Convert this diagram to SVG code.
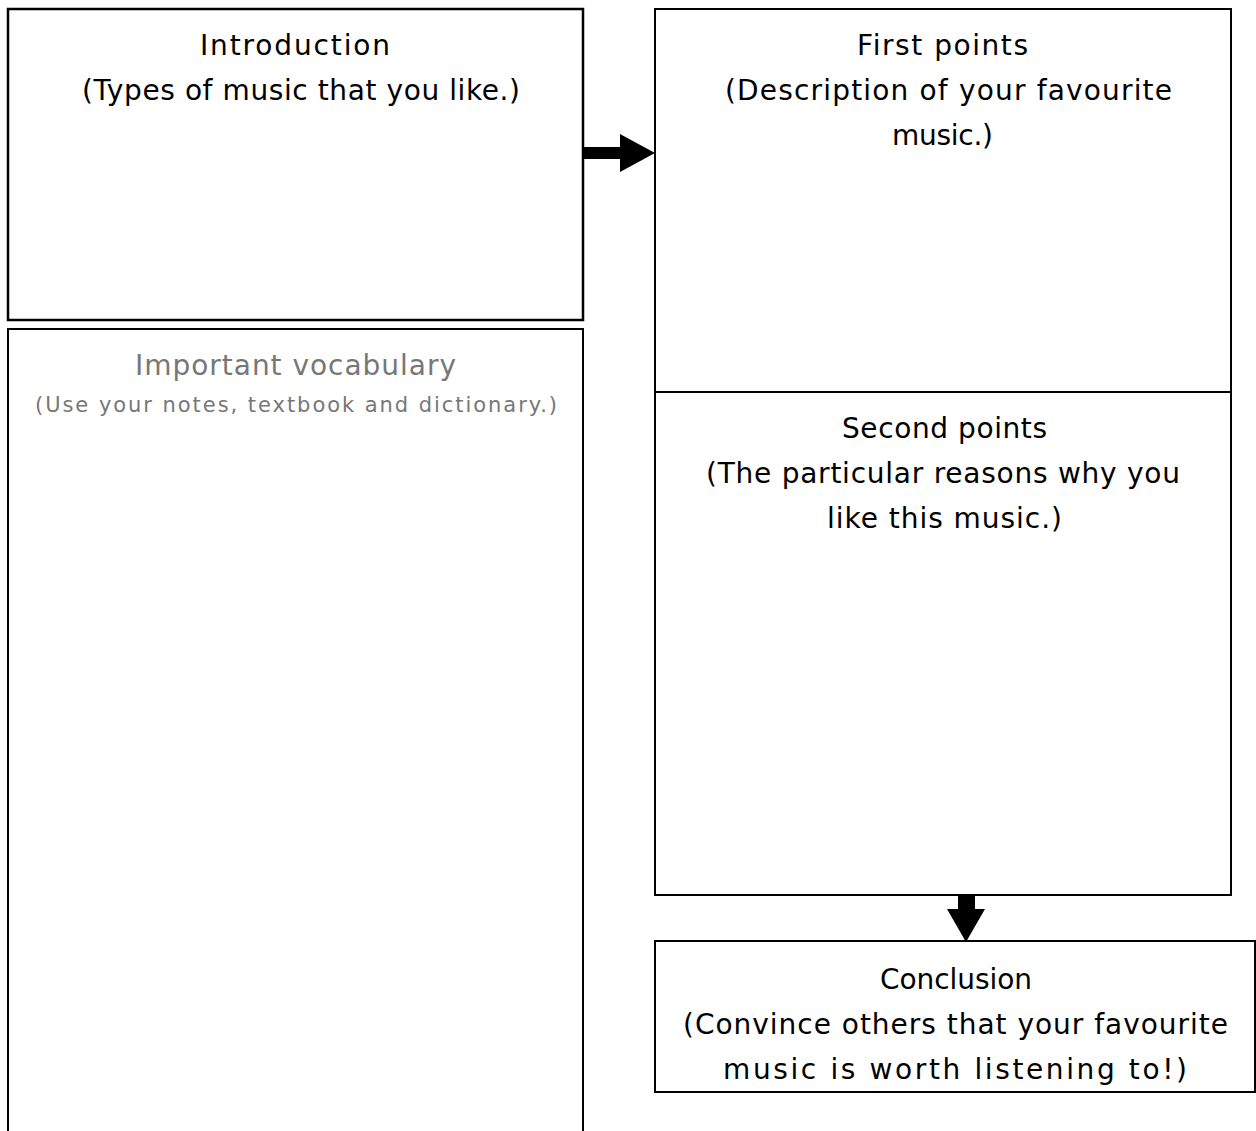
<svg xmlns="http://www.w3.org/2000/svg" width="1256" height="1131" viewBox="0 0 1256 1131">
<style>
.box{fill:#fff;stroke:#000;stroke-width:2}
.thick{stroke-width:2.5}
.t{font-family:"DejaVu Sans","Liberation Sans",sans-serif;font-size:28px;fill:#000;text-anchor:middle}
.g{fill:#777}
.s{font-size:21px}
</style>
<rect width="1256" height="1131" fill="#fff"/>
<g id="intro">
<rect class="box thick" x="8" y="9" width="575" height="311"/>
<text class="t" x="295" y="55" textLength="190">Introduction</text>
<text class="t" x="301" y="100" textLength="438">(Types of music that you like.)</text>
</g>
<g id="vocab">
<path class="box" d="M8,1135 V329 H583 V1135"/>
<text class="t g" x="295.5" y="375" textLength="321">Important vocabulary</text>
<text class="t g s" x="296" y="412" textLength="522">(Use your notes, textbook and dictionary.)</text>
</g>
<g id="first">
<rect class="box" x="655" y="9" width="576" height="383"/>
<text class="t" x="942.5" y="55" textLength="171">First points</text>
<text class="t" x="948.5" y="100" textLength="447">(Description of your favourite</text>
<text class="t" x="942.5" y="145" textLength="101">music.)</text>
</g>
<g id="second">
<rect class="box" x="655" y="392" width="576" height="503"/>
<text class="t" x="944.5" y="438" textLength="205">Second points</text>
<text class="t" x="943" y="483" textLength="474">(The particular reasons why you</text>
<text class="t" x="944.5" y="528" textLength="235">like this music.)</text>
</g>
<g id="conclusion">
<rect class="box" x="655" y="941" width="600" height="151"/>
<text class="t" x="956" y="989" textLength="152">Conclusion</text>
<text class="t" x="955.5" y="1034" textLength="545">(Convince others that your favourite</text>
<text class="t" x="955" y="1079" textLength="464">music is worth listening to!)</text>
</g>
<g id="connectors">
<polygon points="584,147 620,147 620,134 655,153 620,172 620,159 584,159" fill="#000"/>
<polygon points="958,896 975,896 975,909 985,909 966,942 947,909 958,909" fill="#000"/>
</g>
</svg>
